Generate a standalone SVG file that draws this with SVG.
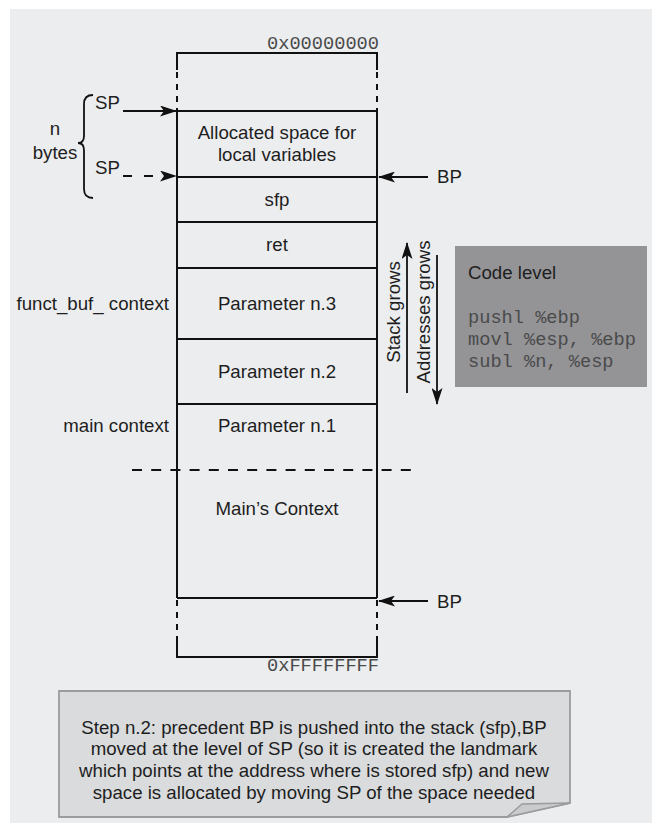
<svg xmlns="http://www.w3.org/2000/svg" width="652" height="823" viewBox="0 0 652 823">
<style>
  .t { font-family: "Liberation Sans", Arial, sans-serif; font-size: 18.67px; fill: #1e1e1e; }
  .c { text-anchor: middle; }
  .e { text-anchor: end; }
  .m { font-family: "Liberation Mono", "Courier New", monospace; font-size: 18.67px; fill: #4a4a4a; }
  .ln { stroke: #111; stroke-width: 2; fill: none; }
  .dl { stroke: #111; stroke-width: 2; fill: none; stroke-dasharray: 6 6; }
  .ar { stroke: #111; stroke-width: 1.8; fill: none; }
</style>
<defs>
  <marker id="ah" markerUnits="userSpaceOnUse" markerWidth="17" markerHeight="11" refX="16" refY="5.5" orient="auto">
    <path d="M0,0 L17,5.5 L0,11 L4,5.5 z" fill="#111"/>
  </marker>
</defs>
<rect x="10" y="9" width="642" height="814" fill="#ecedef"/>

<g id="stack">
  <path class="ln" d="M177,70 V53 H377 V70"/>
  <path class="dl" d="M177,72 V111 M377,72 V111"/>
  <path class="ln" d="M177,111 V598 M377,111 V598"/>
  <path class="ln" d="M177,111 H377 M177,177 H377 M177,222 H377 M177,268 H377 M177,339 H377 M177,404 H377 M177,598 H377"/>
  <path class="dl" d="M177,600 V637 M377,600 V637"/>
  <path class="ln" d="M177,637 V657 H377 V637"/>
  <path d="M132,470 H420" stroke="#111" stroke-width="2" stroke-dasharray="10 9.2"/>
  <text class="m e" x="379" y="49">0x00000000</text>
  <text class="m e" x="379" y="671">0xFFFFFFFF</text>
</g>
<g id="alloc"><text class="t c" x="277" y="139">Allocated space for</text><text class="t c" x="277" y="161">local variables</text></g>
<g id="sfp"><text class="t c" x="277" y="206">sfp</text></g>
<g id="ret"><text class="t c" x="277" y="251">ret</text></g>
<g id="p3"><text class="t c" x="277" y="310">Parameter n.3</text></g>
<g id="p2"><text class="t c" x="277" y="378">Parameter n.2</text></g>
<g id="p1"><text class="t c" x="277" y="432">Parameter n.1</text></g>
<g id="mainctx"><text class="t c" x="277" y="515">Main’s Context</text></g>

<g id="labels">
  <text class="t e" x="169" y="310">funct_buf_ context</text>
  <text class="t e" x="169" y="432">main context</text>
  <text class="t c" x="55" y="135">n</text>
  <text class="t c" x="55" y="159">bytes</text>
  <path d="M93,95 Q84,95 84,104 V136 Q84,143 78,143 Q84,143 84,150 V189 Q84,198 93,198" fill="none" stroke="#111" stroke-width="1.8"/>
  <text class="t" x="95" y="109">SP</text>
  <text class="t" x="95" y="174">SP</text>
  <text class="t" x="437" y="183">BP</text>
  <text class="t" x="437" y="608">BP</text>
</g>

<g id="connectors">
  <line class="ar" x1="123" y1="111" x2="176" y2="111" marker-end="url(#ah)"/>
  <line class="ar" x1="123" y1="176" x2="176" y2="176" stroke-dasharray="9 12" marker-end="url(#ah)"/>
  <line class="ar" x1="428" y1="177" x2="379" y2="177" marker-end="url(#ah)"/>
  <line class="ar" x1="428" y1="601" x2="379" y2="601" marker-end="url(#ah)"/>
  <line class="ar" x1="407" y1="393" x2="407" y2="243" marker-end="url(#ah)"/>
  <line class="ar" x1="437" y1="255" x2="437" y2="404" marker-end="url(#ah)"/>
</g>
<g id="grow-labels">
  <text class="t c" transform="translate(400,312) rotate(-90)">Stack grows</text>
  <text class="t c" transform="translate(430,312) rotate(-90)">Addresses grows</text>
</g>

<g id="code">
  <rect x="455" y="246" width="192" height="141" fill="#949497"/>
  <text class="t" x="468" y="279" fill="#111">Code level</text>
  <text class="m" x="468" y="323" fill="#333">pushl %ebp</text>
  <text class="m" x="468" y="345" fill="#333">movl %esp, %ebp</text>
  <text class="m" x="468" y="367" fill="#333">subl %n, %esp</text>
</g>

<g id="note">
  <path d="M59,691 H570 V803 L507,817 H59 Z" fill="#d9dbdc" stroke="#9c9c9c" stroke-width="1.8"/>
  <path d="M507,817 L522,804 L570,803 Z" fill="#c9cbcc" stroke="#9c9c9c" stroke-width="1.5"/>
  <text class="t c" x="314" y="734">Step n.2: precedent BP is pushed into the stack (sfp),BP</text>
  <text class="t c" x="314" y="755">moved at the level of SP (so it is created the landmark</text>
  <text class="t c" x="314" y="777">which points at the address where is stored sfp) and new</text>
  <text class="t c" x="314" y="799">space is allocated by moving SP of the space needed</text>
</g>
</svg>
